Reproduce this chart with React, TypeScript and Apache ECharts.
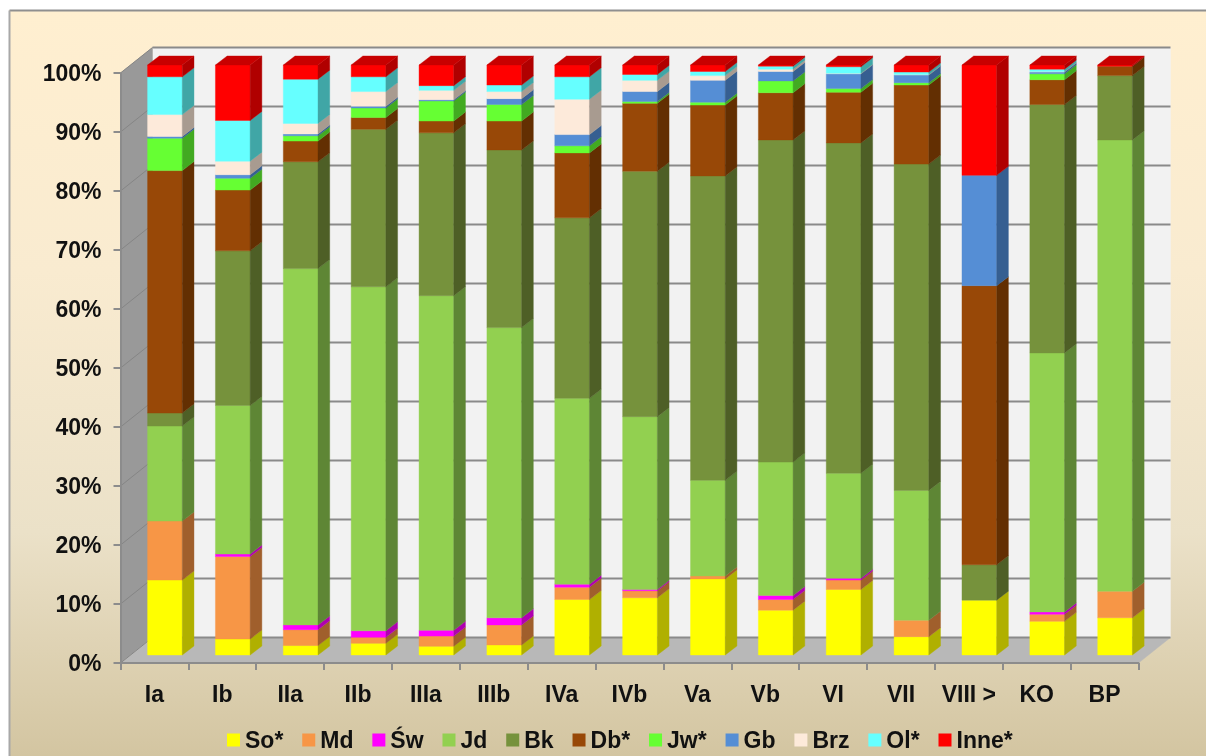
import React, { useEffect, useRef } from "react";
import * as echarts from "echarts";

const categories = ["Ia", "Ib", "IIa", "IIb", "IIIa", "IIIb", "IVa", "IVb", "Va", "Vb", "VI", "VII", "VIII >", "KO", "BP"];
const yTicks = [0, 10, 20, 30, 40, 50, 60, 70, 80, 90, 100];

const So = [12.7, 2.7, 1.6, 2.0, 1.5, 1.7, 9.4, 9.7, 12.9, 7.6, 11.1, 3.1, 9.3, 5.7, 6.3];
const Md = [10.0, 14.0, 2.7, 1.0, 1.7, 3.4, 2.1, 1.2, 0.5, 1.8, 1.6, 2.8, 0, 1.2, 4.5];
const Sw = [0, 0.4, 0.8, 1.1, 1.0, 1.2, 0.5, 0.2, 0, 0.7, 0.3, 0, 0, 0.4, 0];
const Jd = [16.1, 25.2, 60.4, 58.3, 56.7, 49.2, 31.5, 29.3, 16.2, 22.6, 17.8, 22.0, 0, 43.9, 76.5];
const Bk = [2.2, 26.2, 18.1, 26.7, 27.6, 30.1, 30.6, 41.6, 51.6, 54.6, 56.0, 55.3, 6.0, 42.1, 10.9];
const Db = [41.1, 10.3, 3.5, 2.0, 2.0, 4.9, 11.0, 11.5, 12.0, 8.0, 8.6, 13.4, 47.3, 4.2, 1.6];
const Jw = [5.5, 2.0, 0.9, 1.6, 3.4, 2.8, 1.2, 0.3, 0.5, 2.0, 0.6, 0.4, 0, 1.0, 0];
const Gb = [0.3, 0.6, 0.3, 0.3, 0.2, 1.0, 1.9, 1.7, 3.7, 1.6, 2.5, 1.3, 18.7, 0.3, 0];
const Brz = [3.7, 2.3, 1.8, 2.5, 1.6, 1.2, 6.0, 1.9, 0.8, 0.4, 0.1, 0.1, 0, 0.1, 0];
const Ol = [6.4, 6.9, 7.5, 2.5, 0.8, 1.1, 3.8, 1.0, 0.7, 0.5, 1.1, 0.4, 0, 0.4, 0];
const Inne = [2.0, 9.4, 2.4, 2.0, 3.5, 3.4, 2.0, 1.6, 1.1, 0.2, 0.3, 1.2, 18.7, 0.7, 0.2];

const seriesNames = ["So*", "Md", "Św", "Jd", "Bk", "Db*", "Jw*", "Gb", "Brz", "Ol*", "Inne*"];
const seriesValues = [So, Md, Sw, Jd, Bk, Db, Jw, Gb, Brz, Ol, Inne];
const frontColors = ["#FFFF00", "#F79646", "#FF00FF", "#92D050", "#76923C", "#984807", "#66FF33", "#558ED5", "#FDEADA", "#66FFFF", "#FF0000"];
const sideColors = ["#B0B000", "#A05F2C", "#B000B0", "#5E8635", "#4E5F26", "#632F02", "#42AA21", "#365F91", "#A89B90", "#40A6A6", "#B00000"];
const topColor = "#C80000";

const WALL_DX = 32;
const WALL_DY = -25.5;
const BAR_DX = 11.7;
const BAR_DY = -9;
const BAR_W = 34.7;
const BAR_SHIFT_X = 10.5;
const BAR_SHIFT_Y = -8;

const poly = (points: number[][], fill: string) => ({
  type: "polygon",
  shape: { points },
  style: { fill, stroke: fill, lineWidth: 0.4 },
});

const renderWalls = (params: any) => {
  const c = params.coordSys;
  const l = c.x, r = c.x + c.width, t = c.y, b = c.y + c.height;
  return {
    type: "group",
    children: [
      poly([[l + WALL_DX, t + WALL_DY], [r + WALL_DX, t + WALL_DY], [r + WALL_DX, b + WALL_DY], [l + WALL_DX, b + WALL_DY]], "#F2F2F2"),
      poly([[l, t], [l + WALL_DX, t + WALL_DY], [l + WALL_DX, b + WALL_DY], [l, b]], "#999999"),
      poly([[l, b], [l + WALL_DX, b + WALL_DY], [r + WALL_DX, b + WALL_DY], [r, b]], "#B8B8B8"),
    ],
  };
};

const renderGrid = (params: any, api: any) => {
  const c = params.coordSys;
  const y = api.coord([0, api.value(0)])[1];
  const l = c.x, r = c.x + c.width;
  return {
    type: "group",
    children: [
      { type: "line", shape: { x1: l, y1: y, x2: l + WALL_DX, y2: y + WALL_DY }, style: { stroke: "#858585", lineWidth: 1 } },
      { type: "line", shape: { x1: l + WALL_DX, y1: y + WALL_DY, x2: r + WALL_DX, y2: y + WALL_DY }, style: { stroke: "#8A8A8A", lineWidth: 2.2 } },
    ],
  };
};

const makeRender = (idx: number) => (_params: any, api: any) => {
  const cat = api.value(0);
  const start = api.value(1);
  const end = api.value(2);
  if (end - start <= 0) return null;
  const p0 = api.coord([cat, start]);
  const p1 = api.coord([cat, end]);
  const x0 = p0[0] + BAR_SHIFT_X - BAR_W / 2;
  const x1 = x0 + BAR_W;
  const yb = p0[1] + BAR_SHIFT_Y;
  const yt = p1[1] + BAR_SHIFT_Y;
  const children: any[] = [
    poly([[x0, yb], [x1, yb], [x1, yt], [x0, yt]], frontColors[idx]),
    poly([[x1, yb], [x1 + BAR_DX, yb + BAR_DY], [x1 + BAR_DX, yt + BAR_DY], [x1, yt]], sideColors[idx]),
  ];
  if (idx === seriesNames.length - 1) {
    children.push(poly([[x0, yt], [x1, yt], [x1 + BAR_DX, yt + BAR_DY], [x0 + BAR_DX, yt + BAR_DY]], topColor));
  }
  return { type: "group", children };
};

const buildBarData = (idx: number) =>
  categories.map((_, i) => {
    let start = 0;
    for (let k = 0; k < idx; k++) start += seriesValues[k][i];
    return [i, start, start + seriesValues[idx][i]];
  });

const labelFont = "Liberation Sans";

export default function App() {
  const ref = useRef<HTMLDivElement>(null);
  useEffect(() => {
    const chart = echarts.init(ref.current!, undefined, { renderer: "svg" });
    chart.setOption({
      animation: false,
      backgroundColor: "#ffffff",
      graphic: [
        {
          type: "rect",
          z: 0,
          silent: true,
          shape: { x: 9, y: 10, width: 1197, height: 746 },
          style: {
            fill: new echarts.graphic.LinearGradient(0, 0, 0, 1, [
              { offset: 0, color: "#FFEFD0" },
              { offset: 0.35, color: "#F9EBD0" },
              { offset: 0.7, color: "#EBE1C8" },
              { offset: 1, color: "#D3C5A1" },
            ]),
          },
        },
        { type: "line", z: 1, silent: true, shape: { x1: 9.5, y1: 10.5, x2: 1206, y2: 10.5 }, style: { stroke: "#8F8F8F", lineWidth: 2 } },
        { type: "line", z: 1, silent: true, shape: { x1: 9.5, y1: 10.5, x2: 9.5, y2: 756 }, style: { stroke: "#A8A8A8", lineWidth: 2 } },
      ],
      grid: { left: 120.5, right: 67.5, top: 73, bottom: 93, containLabel: false },
      xAxis: {
        type: "category",
        data: categories,
        z: 6,
        axisLine: { show: true, onZero: false, lineStyle: { color: "#8C8C8C", width: 2 } },
        axisTick: { show: true, alignWithLabel: false, length: 7, lineStyle: { color: "#8C8C8C", width: 2 } },
        axisLabel: { interval: 0, margin: 19, fontSize: 23, fontWeight: "bold", fontFamily: labelFont, color: "#111111" },
      },
      yAxis: {
        type: "value",
        min: 0,
        max: 100,
        interval: 10,
        z: 6,
        splitLine: { show: false },
        axisLine: { show: true, lineStyle: { color: "#8C8C8C", width: 2 } },
        axisTick: { show: true, length: 7, lineStyle: { color: "#8C8C8C", width: 2 } },
        axisLabel: { formatter: "{value}%", margin: 19, fontSize: 23, fontWeight: "bold", fontFamily: labelFont, color: "#111111" },
      },
      legend: {
        data: seriesNames,
        left: 227,
        top: 728.5,
        padding: 0,
        itemWidth: 13,
        itemHeight: 13,
        itemGap: 18.9,
        icon: "rect",
        selectedMode: false,
        textStyle: { fontSize: 23, fontWeight: "bold", fontFamily: labelFont, color: "#111111", padding: [0, 0, 0, 0] },
      },
      series: [
        { type: "custom", name: "walls", silent: true, clip: false, z: 2, data: [[0]], encode: { y: 0 }, renderItem: renderWalls },
        { type: "custom", name: "grid", silent: true, clip: false, z: 2, data: yTicks.map((v) => [v]), encode: { y: 0 }, renderItem: renderGrid },
        ...seriesNames.map((name, idx) => ({
          type: "custom",
          name,
          clip: false,
          z: 3,
          silent: true,
          itemStyle: { color: frontColors[idx] },
          encode: { x: 0, y: [1, 2] },
          data: buildBarData(idx),
          renderItem: makeRender(idx),
        })),
      ],
    });
    return () => chart.dispose();
  }, []);
  return (
    <div
      ref={ref}
      style={{ position: "fixed", left: 0, top: 0, width: 1206, height: 756, filter: "blur(0.7px)" }}
    />
  );
}
